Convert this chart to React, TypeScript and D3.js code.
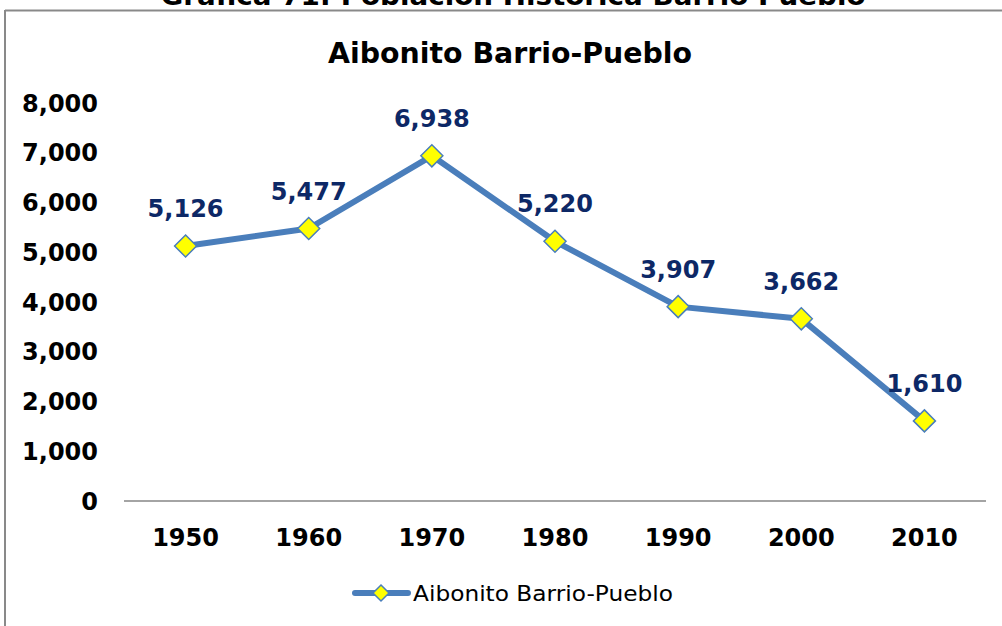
import React from "react";
import * as d3 from "d3";

const years = ["1950", "1960", "1970", "1980", "1990", "2000", "2010"];
const population = [5126, 5477, 6938, 5220, 3907, 3662, 1610];
const yTicks = [0, 1000, 2000, 3000, 4000, 5000, 6000, 7000, 8000];
const pageTitle = "Gráfica 71: Población Histórica Barrio Pueblo";
const chartTitle = "Aibonito Barrio-Pueblo";
const seriesName = "Aibonito Barrio-Pueblo";

const W = 1002;
const H = 626;
const FONT = "'DejaVu Sans', Verdana, sans-serif";
const LINE = "#4a7ebb";

export default function App() {
  const x = d3.scaleBand<string>().domain(years).range([124, 986]);
  const y = d3.scaleLinear().domain([0, 8000]).range([501, 103]);
  const fmt = d3.format(",");
  const pts = years.map((yr, i) => ({
    yr,
    v: population[i],
    px: (x(yr) as number) + x.bandwidth() / 2,
    py: y(population[i]),
  }));
  const line = d3
    .line<{ px: number; py: number }>()
    .x((d) => d.px)
    .y((d) => d.py);
  const diamond = (cx: number, cy: number, r: number) =>
    `M${cx},${cy - r}L${cx + r},${cy}L${cx},${cy + r}L${cx - r},${cy}Z`;

  return (
    <svg
      width={W}
      height={H}
      style={{ position: "absolute", left: 0, top: 0, background: "#fff" }}
      fontFamily={FONT}
    >
      <rect x={0} y={0} width={W} height={H} fill="#fff" />
      {/* page title, clipped at top */}
      <text
        x={513}
        y={5}
        textAnchor="middle"
        fontSize={27}
        fontWeight="bold"
        fill="#000"
        textLength={705}
        lengthAdjust="spacingAndGlyphs"
      >
        {pageTitle}
      </text>
      {/* chart border */}
      <line x1={5} y1={10.5} x2={W} y2={10.5} stroke="#898989" strokeWidth={2} />
      <line x1={5} y1={10} x2={5} y2={H} stroke="#898989" strokeWidth={2} />

      {/* chart title */}
      <text
        x={510}
        y={63}
        textAnchor="middle"
        fontSize={28}
        fontWeight="bold"
        fill="#000"
        textLength={364}
        lengthAdjust="spacingAndGlyphs"
      >
        {chartTitle}
      </text>

      {/* y tick labels */}
      {yTicks.map((t) => (
        <text
          key={t}
          x={98}
          y={y(t)}
          dy="0.36em"
          textAnchor="end"
          fontSize={24}
          fontWeight="bold"
          fill="#000"
        >
          {fmt(t)}
        </text>
      ))}

      {/* x axis line */}
      <line x1={124} y1={501} x2={986} y2={501} stroke="#868686" strokeWidth={1.5} />

      {/* x labels */}
      {years.map((yr) => (
        <text
          key={yr}
          x={(x(yr) as number) + x.bandwidth() / 2}
          y={546}
          textAnchor="middle"
          fontSize={24}
          fontWeight="bold"
          fill="#000"
        >
          {yr}
        </text>
      ))}

      {/* series line */}
      <path
        d={line(pts) || ""}
        fill="none"
        stroke={LINE}
        strokeWidth={6}
        strokeLinejoin="round"
        strokeLinecap="round"
      />
      {pts.map((p) => (
        <path
          key={p.yr}
          d={diamond(p.px, p.py, 11)}
          fill="#ffff00"
          stroke={LINE}
          strokeWidth={1.5}
        />
      ))}

      {/* data labels */}
      {pts.map((p) => (
        <text
          key={"l" + p.yr}
          x={p.px}
          y={p.py - 29}
          textAnchor="middle"
          fontSize={24}
          fontWeight="bold"
          fill="#0d2866"
        >
          {fmt(p.v)}
        </text>
      ))}

      {/* legend */}
      <line
        x1={355}
        y1={593}
        x2={408}
        y2={593}
        stroke={LINE}
        strokeWidth={6}
        strokeLinecap="round"
      />
      <path d={diamond(381, 593, 8)} fill="#ffff00" stroke={LINE} strokeWidth={1.5} />
      <text
        x={413}
        y={601}
        fontSize={22}
        fill="#000"
        textLength={260}
        lengthAdjust="spacingAndGlyphs"
      >
        {seriesName}
      </text>
    </svg>
  );
}
